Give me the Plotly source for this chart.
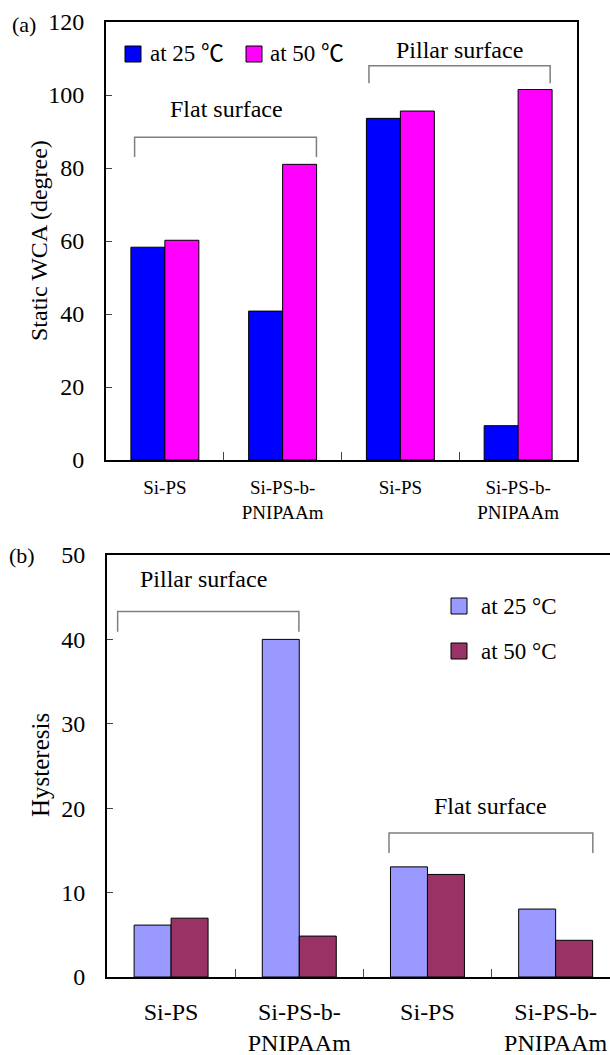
import plotly.graph_objects as go

# ---------------- data ----------------
cats_a = ["Si-PS", "Si-PS-b-<br>PNIPAAm", "Si-PS", "Si-PS-b-<br>PNIPAAm"]
wca_25 = [58.3, 40.8, 93.6, 9.4]
wca_50 = [60.2, 81.0, 95.6, 101.5]

cats_b = ["Si-PS", "Si-PS-b-<br>PNIPAAm", "Si-PS", "Si-PS-b-<br>PNIPAAm"]
hys_25 = [6.15, 40.0, 13.05, 8.05]
hys_50 = [6.97, 4.85, 12.15, 4.35]

names_a = ["at 25 \u2103", "at 50 \u2103"]
names_b = ["at 25 \u00b0C", "at 50 \u00b0C"]
colors_a = ["#0000FF", "#FF00FF"]
colors_b = ["#9999FF", "#993366"]

FONT = "Liberation Serif, DejaVu Serif, serif"
FONT_CJK = "Liberation Serif, Noto Sans CJK SC"
W, H = 610, 1055

xa = list(range(len(cats_a)))
xb = list(range(len(cats_b)))

fig = go.Figure()

for vals, nm, col in zip([wca_25, wca_50], names_a, colors_a):
    fig.add_trace(go.Bar(x=xa, y=vals, name=nm, marker=dict(color=col, line=dict(color="black", width=1)),
                         xaxis="x", yaxis="y", showlegend=False))
for vals, nm, col in zip([hys_25, hys_50], names_b, colors_b):
    fig.add_trace(go.Bar(x=xb, y=vals, name=nm, marker=dict(color=col, line=dict(color="black", width=1)),
                         xaxis="x2", yaxis="y2", showlegend=False))

def px_y(p):
    return 1 - p / H

def px_x(p):
    return p / W

axis_common = dict(showline=True, linecolor="black", linewidth=2, showgrid=False, zeroline=False,
                   automargin=False)

fig.update_layout(
    width=W, height=H,
    margin=dict(l=0, r=0, t=0, b=0, autoexpand=False),
    paper_bgcolor="white", plot_bgcolor="white",
    barmode="group", bargap=0.423, bargroupgap=0,
    font=dict(family=FONT, color="black"),
    xaxis=dict(domain=[px_x(106), px_x(577)], range=[-0.5, 3.5], anchor="y", mirror=True,
               tickmode="array", tickvals=xa, ticktext=cats_a, ticks="",
               tickfont=dict(size=19, family=FONT), ticklabelstandoff=9,
               minor=dict(tickmode="array", tickvals=[0.5, 1.5, 2.5], ticks="inside", ticklen=8,
                          tickcolor="#444", tickwidth=1),
               **axis_common),
    yaxis=dict(domain=[px_y(460), px_y(22)], range=[0, 120], anchor="x", mirror=True,
               tickmode="linear", tick0=0, dtick=20, ticks="inside", ticklen=6, tickcolor="#444",
               tickfont=dict(size=24, family=FONT), ticklabelstandoff=15,
               **axis_common),
    xaxis2=dict(domain=[px_x(107), 1], range=[-0.5, 3.424], anchor="y2", mirror=True,
                tickmode="array", tickvals=xb, ticktext=cats_b, ticks="",
                tickfont=dict(size=24, family=FONT), ticklabelstandoff=12,
                minor=dict(tickmode="array", tickvals=[0.5, 1.5, 2.5], ticks="inside", ticklen=8,
                           tickcolor="#444", tickwidth=1),
                **axis_common),
    yaxis2=dict(domain=[px_y(977), px_y(555)], range=[0, 50], anchor="x2", mirror=False,
                tickmode="linear", tick0=0, dtick=10, ticks="inside", ticklen=6, tickcolor="#444",
                tickfont=dict(size=24, family=FONT), ticklabelstandoff=15,
                **axis_common),
    showlegend=False,
)

# brackets (gray)
BR = dict(color="#7f7f7f", width=1.5)

def bracket(xref, yref, x0, x1, ytop, yend):
    fig.add_shape(type="path", xref=xref, yref=yref,
                  path=f"M {x0},{yend} L {x0},{ytop} L {x1},{ytop} L {x1},{yend}",
                  line=BR)

bracket("x", "y", -0.257, 1.287, 88.4, 83.0)
bracket("x", "y", 1.733, 3.272, 108.0, 103.2)
bracket("x2", "y2", -0.417, 0.997, 43.3, 40.9)
bracket("x2", "y2", 1.70, 3.29, 17.05, 14.7)

ann = []
ann.append(dict(text="Flat surface", x=0.52, y=96.3, xref="x", yref="y", showarrow=False,
                font=dict(size=24, family=FONT)))
ann.append(dict(text="Pillar surface", x=2.5, y=112.3, xref="x", yref="y", showarrow=False,
                font=dict(size=24, family=FONT)))
ann.append(dict(text="Pillar surface", x=0.25, y=47.1, xref="x2", yref="y2", showarrow=False,
                font=dict(size=24, family=FONT)))
ann.append(dict(text="Flat surface", x=2.49, y=20.3, xref="x2", yref="y2", showarrow=False,
                font=dict(size=24, family=FONT)))
# panel labels
ann.append(dict(text="(a)", x=px_x(24), y=px_y(24), xref="paper", yref="paper", showarrow=False,
                xanchor="center", yanchor="middle", font=dict(size=22, family=FONT)))
ann.append(dict(text="(b)", x=px_x(22), y=px_y(555), xref="paper", yref="paper", showarrow=False,
                xanchor="center", yanchor="middle", font=dict(size=22, family=FONT)))
# axis titles
ann.append(dict(text="Static WCA (degree)", x=px_x(39), y=px_y(241), xref="paper", yref="paper",
                xanchor="center", yanchor="middle",
                showarrow=False, textangle=-90, font=dict(size=24, family=FONT)))
ann.append(dict(text="Hysteresis", x=px_x(40), y=px_y(765), xref="paper", yref="paper",
                xanchor="center", yanchor="middle",
                showarrow=False, textangle=-90, font=dict(size=25, family=FONT)))

# legends (drawn as swatches + text)
legend_a = [(125, 54, 148), (246, 54, 268)]   # swatch left x, center y, text left x (px)
for (sx, cy, tx), nm, col in zip(legend_a, names_a, colors_a):
    fig.add_shape(type="rect", xref="paper", yref="paper",
                  x0=px_x(sx), x1=px_x(sx + 16), y0=px_y(cy - 8), y1=px_y(cy + 8),
                  fillcolor=col, line=dict(color="black", width=1))
    ann.append(dict(text=nm, x=px_x(tx), y=px_y(cy), xref="paper", yref="paper", showarrow=False,
                    xanchor="left", yanchor="middle", font=dict(size=23, family=FONT_CJK)))
legend_b = [(451, 606, 479), (451, 651, 479)]
for (sx, cy, tx), nm, col in zip(legend_b, names_b, colors_b):
    fig.add_shape(type="rect", xref="paper", yref="paper",
                  x0=px_x(sx), x1=px_x(sx + 16), y0=px_y(cy - 8), y1=px_y(cy + 8),
                  fillcolor=col, line=dict(color="black", width=1))
    ann.append(dict(text=nm, x=px_x(tx), y=px_y(cy), xref="paper", yref="paper", showarrow=False,
                    xanchor="left", yanchor="middle", font=dict(size=23, family=FONT)))

fig.update_layout(annotations=ann)

fig.write_html("out.html")
